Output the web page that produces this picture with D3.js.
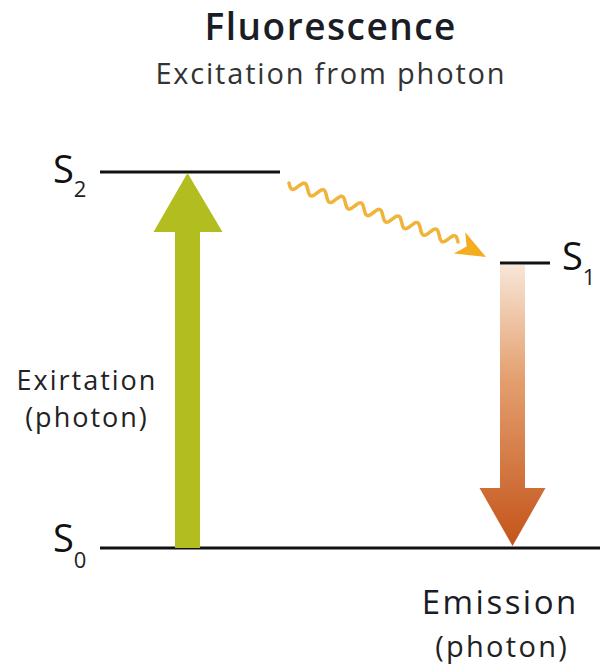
<!DOCTYPE html>
<html><head><meta charset="utf-8">
<script src="https://cdn.jsdelivr.net/npm/d3@7"></script>
<style>body{margin:0;background:#fff}svg{display:block}</style>
</head><body>
<script>
// Data
const levelNames = ["S0", "S1", "S2"];
const levelEnergy = [0, 0.758, 1];
const titleText = "Fluorescence";
const subtitleText = "Excitation from photon";
const excitationLabel = ["Exirtation", "(photon)"];
const emissionLabel = ["Emission", "(photon)"];

const W = 600, H = 669;
const svg = d3.select("body").append("svg").attr("width", W).attr("height", H);
const y = d3.scaleLinear().domain([0, 1]).range([548, 172]);
const FONT = "'Open Sans', 'Noto Sans', sans-serif";

const defs = svg.append("defs");
const grad = defs.append("linearGradient").attr("id", "emg").attr("x1", 0).attr("y1", 0).attr("x2", 0).attr("y2", 1);
grad.append("stop").attr("offset", "0%").attr("stop-color", "#f8e6d8");
grad.append("stop").attr("offset", "40%").attr("stop-color", "#e4a070");
grad.append("stop").attr("offset", "100%").attr("stop-color", "#c4541a");

function centered(x, yy, txt, size, weight, fill, ls) {
  svg.append("text").attr("x", x + ls/2).attr("y", yy).attr("text-anchor", "middle")
    .attr("font-family", FONT).attr("font-weight", weight).attr("font-size", size)
    .attr("letter-spacing", ls).attr("fill", fill).text(txt);
}

// Titles
centered(330, 40, titleText, 37, 600, "#1a1d26", 1.5);
centered(330, 84, subtitleText, 29, 400, "#333", 1.8);

// Levels
const lvl = {
  S0: {x1: 100, x2: 600, lx: 53, dy: 4, sdy: 16},
  S1: {x1: 500, x2: 550, lx: 562, dy: 7, sdy: 15},
  S2: {x1: 100, x2: 280, lx: 53, dy: 11, sdy: 14}
};
levelNames.forEach((n, i) => {
  const yy = y(levelEnergy[i]);
  svg.append("line").attr("x1", lvl[n].x1).attr("x2", lvl[n].x2).attr("y1", yy).attr("y2", yy)
    .attr("stroke", "#111").attr("stroke-width", 3);
  const t = svg.append("text").attr("x", lvl[n].lx).attr("y", yy + lvl[n].dy)
    .attr("font-family", FONT).attr("font-size", 38).attr("fill", "#111");
  t.append("tspan").text(n[0]);
  t.append("tspan").attr("font-size", 22).attr("dy", lvl[n].sdy).attr("fill", "#222").text(n[1]);
});

// Excitation arrow (green)
const yS0 = y(levelEnergy[0]), yS2 = y(levelEnergy[2]), yS1 = y(levelEnergy[1]);
const gx = 187.5;
svg.append("path").attr("fill", "#b2bd1f").attr("d",
  `M${gx-12.5},${yS0} L${gx-12.5},${yS2+60} L${gx-34},${yS2+60} L${gx},${yS2+1} L${gx+35},${yS2+60} L${gx+12.5},${yS2+60} L${gx+12.5},${yS0} Z`);

// Emission arrow (gradient)
const ex = 512.5;
svg.append("path").attr("fill", "url(#emg)").attr("d",
  `M${ex-12.5},${yS1+2} L${ex-12.5},${yS0-60} L${ex-33},${yS0-60} L${ex},${yS0-2} L${ex+33},${yS0-60} L${ex+12.5},${yS0-60} L${ex+12.5},${yS1+2} Z`);

// Wavy arrow
const p0 = [289, 183], p1 = [458, 242], tip = [486, 257];
const dx = p1[0]-p0[0], dy = p1[1]-p0[1], L = Math.hypot(dx, dy);
const ux = dx/L, uy = dy/L, nx = -uy, ny = ux;
const waves = 9, amp = 5;
const pts = d3.range(0, 201).map(i => {
  const t = i/200, s = t*L;
  const off = amp*Math.sin(t*waves*2*Math.PI);
  return [p0[0]+ux*s+nx*off, p0[1]+uy*s+ny*off];
});
svg.append("path").attr("d", d3.line().curve(d3.curveBasis)(pts)).attr("fill", "none")
  .attr("stroke", "#f1b43a").attr("stroke-width", 3.5).attr("stroke-linecap", "round");
const hx = tip[0]-p1[0], hy = tip[1]-p1[1], hl = Math.hypot(hx, hy);
const hux = hx/hl, huy = hy/hl;
const bx = tip[0]-hux*30, by = tip[1]-huy*30;
svg.append("path").attr("fill", "#f4ad20").attr("d",
  `M${tip[0]},${tip[1]} L${bx-huy*12},${by+hux*12} L${bx+hux*8},${by+huy*8} L${bx+huy*12},${by-hux*12} Z`);

// Labels
excitationLabel.forEach((s, i) => centered(86, 390 + i*37, s, 27, 400, "#222", 2));
centered(499, 614, emissionLabel[0], 33, 400, "#1a1d26", 2.5);
centered(501, 657, emissionLabel[1], 29, 400, "#222", 2.3);
</script>
</body></html>
